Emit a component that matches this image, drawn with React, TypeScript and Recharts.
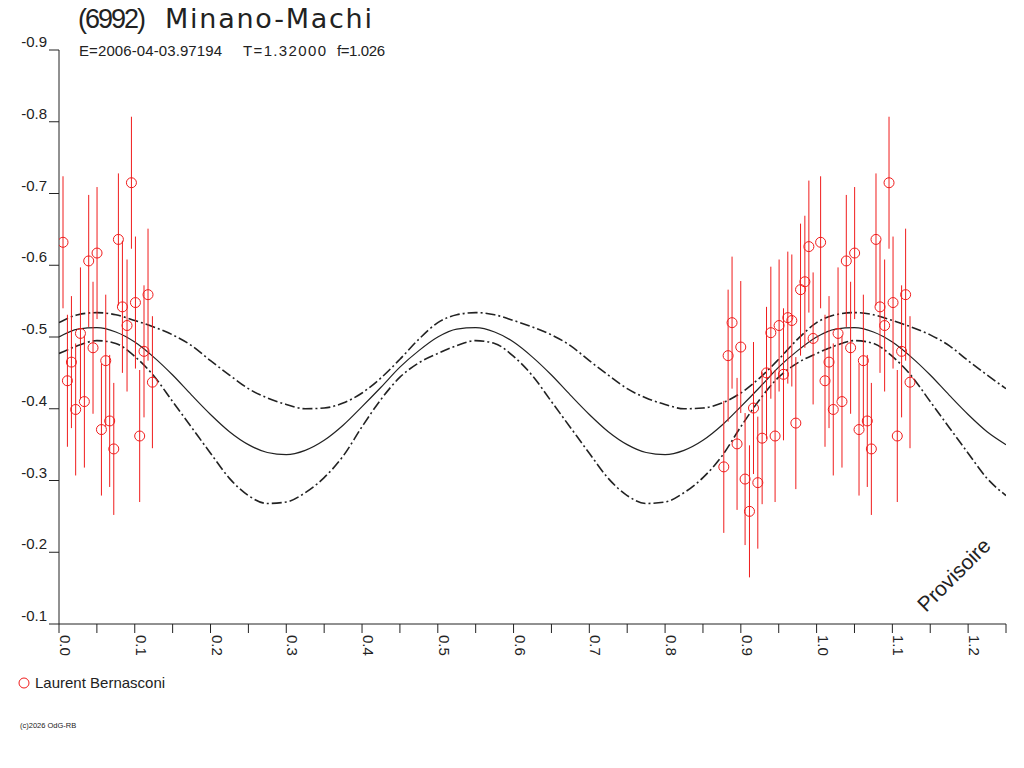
import React from "react";
import { ComposedChart, Line, Scatter, ErrorBar, XAxis, YAxis } from "recharts";

const INK = "#222222";
const RED = "#f01c1c";
const FONT = "'Liberation Sans', Arial, sans-serif";

// phase grid for the fitted light curve and its envelope
const CURVE_PHASE = [
  0, 0.025, 0.05, 0.075, 0.1, 0.125, 0.15, 0.175, 0.2, 0.225,
  0.25, 0.275, 0.3, 0.325, 0.35, 0.375, 0.4, 0.425, 0.45, 0.475,
  0.5, 0.525, 0.55, 0.575, 0.6, 0.625, 0.65, 0.675, 0.7, 0.725,
  0.75, 0.775, 0.8, 0.825, 0.85, 0.875, 0.9, 0.925, 0.95, 0.975,
  1.0, 1.025, 1.05, 1.075, 1.1, 1.125, 1.15, 1.175, 1.2, 1.225,
  1.25,
];

const FIT_MAG = [
  -0.500, -0.511, -0.513, -0.507, -0.493, -0.472, -0.447, -0.419, -0.392, -0.368,
  -0.350, -0.339, -0.336, -0.342, -0.356, -0.377, -0.403, -0.430, -0.458, -0.481,
  -0.500, -0.511, -0.513, -0.507, -0.493, -0.472, -0.447, -0.419, -0.392, -0.368,
  -0.350, -0.339, -0.336, -0.342, -0.356, -0.377, -0.403, -0.430, -0.458, -0.481,
  -0.500, -0.511, -0.513, -0.507, -0.493, -0.472, -0.447, -0.419, -0.392, -0.368,
  -0.350,
];

const FIT_UPPER = [
  -0.520, -0.531, -0.534, -0.531, -0.523, -0.514, -0.503, -0.488, -0.467, -0.447,
  -0.428, -0.415, -0.406, -0.400, -0.401, -0.408, -0.422, -0.443, -0.469, -0.497,
  -0.520, -0.531, -0.534, -0.531, -0.523, -0.514, -0.503, -0.488, -0.467, -0.447,
  -0.428, -0.415, -0.406, -0.400, -0.401, -0.408, -0.422, -0.443, -0.469, -0.497,
  -0.520, -0.531, -0.534, -0.531, -0.523, -0.514, -0.503, -0.488, -0.467, -0.447,
  -0.428,
];

const FIT_LOWER = [
  -0.477, -0.488, -0.495, -0.491, -0.473, -0.446, -0.410, -0.374, -0.338, -0.303,
  -0.279, -0.268, -0.270, -0.283, -0.304, -0.334, -0.375, -0.413, -0.444, -0.464,
  -0.477, -0.488, -0.495, -0.491, -0.473, -0.446, -0.410, -0.374, -0.338, -0.303,
  -0.279, -0.268, -0.270, -0.283, -0.304, -0.334, -0.375, -0.413, -0.444, -0.464,
  -0.477, -0.488, -0.495, -0.491, -0.473, -0.446, -0.410, -0.374, -0.338, -0.303,
  -0.279,
];

// observations (L. Bernasconi), phase and relative magnitude
const OBS_PHASE = [
  0.0053, 0.0111, 0.0164, 0.022, 0.0283, 0.0335, 0.0392, 0.0449, 0.0502, 0.056, 0.0617,
  0.0669, 0.0723, 0.0784, 0.0837, 0.0898, 0.0956, 0.1009, 0.1065, 0.1122, 0.1175, 0.1233,
  0.8775, 0.8832, 0.8884, 0.895, 0.8999, 0.9056, 0.9114, 0.9167, 0.9224, 0.9281, 0.9339,
  0.9396, 0.9452, 0.9505, 0.9563, 0.962, 0.9673, 0.9726, 0.9788, 0.9845, 0.9898, 0.9954,
];

const OBS_MAG = [
  -0.632, -0.439, -0.465, -0.399, -0.505, -0.41, -0.606, -0.485, -0.617, -0.371, -0.467,
  -0.383, -0.344, -0.636, -0.542, -0.516, -0.715, -0.548, -0.362, -0.48, -0.559, -0.437,
  -0.319, -0.474, -0.52, -0.351, -0.486, -0.302, -0.257, -0.401, -0.297, -0.359, -0.45,
  -0.506, -0.362, -0.516, -0.448, -0.527, -0.523, -0.38, -0.566, -0.577, -0.626, -0.498,
];

const OBS_ERR = 0.092;

const X_TICKS = [
  0, 0.05, 0.1, 0.15, 0.2, 0.25, 0.3, 0.35, 0.4, 0.45, 0.5, 0.55, 0.6,
  0.65, 0.7, 0.75, 0.8, 0.85, 0.9, 0.95, 1.0, 1.05, 1.1, 1.15, 1.2, 1.25,
];
const Y_TICKS = [-0.9, -0.8, -0.7, -0.6, -0.5, -0.4, -0.3, -0.2, -0.1];

const curve = (mags: number[]) => CURVE_PHASE.map((phase, i) => ({ phase, v: mags[i] }));

const fitData = curve(FIT_MAG);
const upperData = curve(FIT_UPPER);
const lowerData = curve(FIT_LOWER);

// phase axis runs past 1.0, so early phases are drawn a second time
const obsData = OBS_PHASE.map((phase, i) => ({ phase, v: OBS_MAG[i], err: OBS_ERR }));
const pointData = [
  ...obsData,
  ...obsData.filter((d) => d.phase < 0.25).map((d) => ({ ...d, phase: d.phase + 1 })),
];

function XTick(props: any) {
  const { x, y, payload } = props;
  const v = payload.value as number;
  if (Math.round(v * 100) % 10 !== 0) return <g />;
  return (
    <text
      x={x}
      y={y}
      dy={-1}
      transform={`rotate(90 ${x} ${y})`}
      textAnchor="start"
      fontSize={15}
      fontFamily={FONT}
      fill={INK}
    >
      {v.toFixed(1)}
    </text>
  );
}

function YTick(props: any) {
  const { x, y, payload } = props;
  return (
    <text x={x} y={y - 3} textAnchor="end" fontSize={15} fontFamily={FONT} fill={INK}>
      {(payload.value as number).toFixed(1)}
    </text>
  );
}

const ring = (p: any) => <circle cx={p.cx} cy={p.cy} r={5} fill="none" stroke={RED} strokeWidth={1} />;

export default function App() {
  return (
    <div style={{ position: "absolute", left: 0, top: 0, width: 1024, height: 768, background: "#fff" }}>
      <ComposedChart width={1024} height={768} margin={{ top: 50, right: 18, bottom: 114, left: 0 }}>
        <XAxis
          type="number"
          dataKey="phase"
          domain={[0, 1.25]}
          ticks={X_TICKS}
          interval={0}
          height={30}
          tickSize={9}
          allowDataOverflow
          axisLine={{ stroke: INK }}
          tickLine={{ stroke: INK }}
          tick={<XTick />}
        />
        <YAxis
          type="number"
          dataKey="v"
          domain={[-0.9, -0.1]}
          reversed
          ticks={Y_TICKS}
          interval={0}
          width={59}
          tickSize={10}
          allowDataOverflow
          axisLine={{ stroke: INK }}
          tickLine={{ stroke: INK }}
          tick={<YTick />}
        />
        <Line
          data={upperData}
          dataKey="v"
          type="monotone"
          stroke={INK}
          strokeWidth={1.6}
          strokeDasharray="10 3 2 3"
          dot={false}
          activeDot={false}
          isAnimationActive={false}
        />
        <Line
          data={lowerData}
          dataKey="v"
          type="monotone"
          stroke={INK}
          strokeWidth={1.6}
          strokeDasharray="10 3 2 3"
          dot={false}
          activeDot={false}
          isAnimationActive={false}
        />
        <Line
          data={fitData}
          dataKey="v"
          type="monotone"
          stroke={INK}
          strokeWidth={1.2}
          dot={false}
          activeDot={false}
          isAnimationActive={false}
        />
        <Scatter data={pointData} dataKey="v" shape={ring} isAnimationActive={false}>
          <ErrorBar dataKey="err" direction="y" width={0} stroke={RED} strokeWidth={1} />
        </Scatter>
      </ComposedChart>
      <svg
        width={1024}
        height={768}
        style={{ position: "absolute", left: 0, top: 0, pointerEvents: "none" }}
        fontFamily={FONT}
        fill={INK}
      >
        <text x={78} y={28} fontSize={27} textLength={68} lengthAdjust="spacing">(6992)</text>
        <text
          x={165}
          y={28}
          fontSize={27}
          style={{ fontFamily: "'DejaVu Sans', Verdana, sans-serif" }}
          textLength={207}
          lengthAdjust="spacing"
        >
          Minano-Machi
        </text>
        <text x={79} y={56} fontSize={15} textLength={143} lengthAdjust="spacing">E=2006-04-03.97194</text>
        <text x={243} y={56} fontSize={15} textLength={83} lengthAdjust="spacing">T=1.32000</text>
        <text x={337} y={56} fontSize={15} textLength={48} lengthAdjust="spacing">f=1.026</text>
        <circle cx={24} cy={683} r={5} fill="none" stroke={RED} strokeWidth={1} />
        <text x={35} y={688} fontSize={15}>Laurent Bernasconi</text>
        <text x={20} y={728} fontSize={7.5}>(c)2026 OdG-RB</text>
        <text x={926} y={613} fontSize={21} transform="rotate(-45 926 613)">Provisoire</text>
      </svg>
    </div>
  );
}
